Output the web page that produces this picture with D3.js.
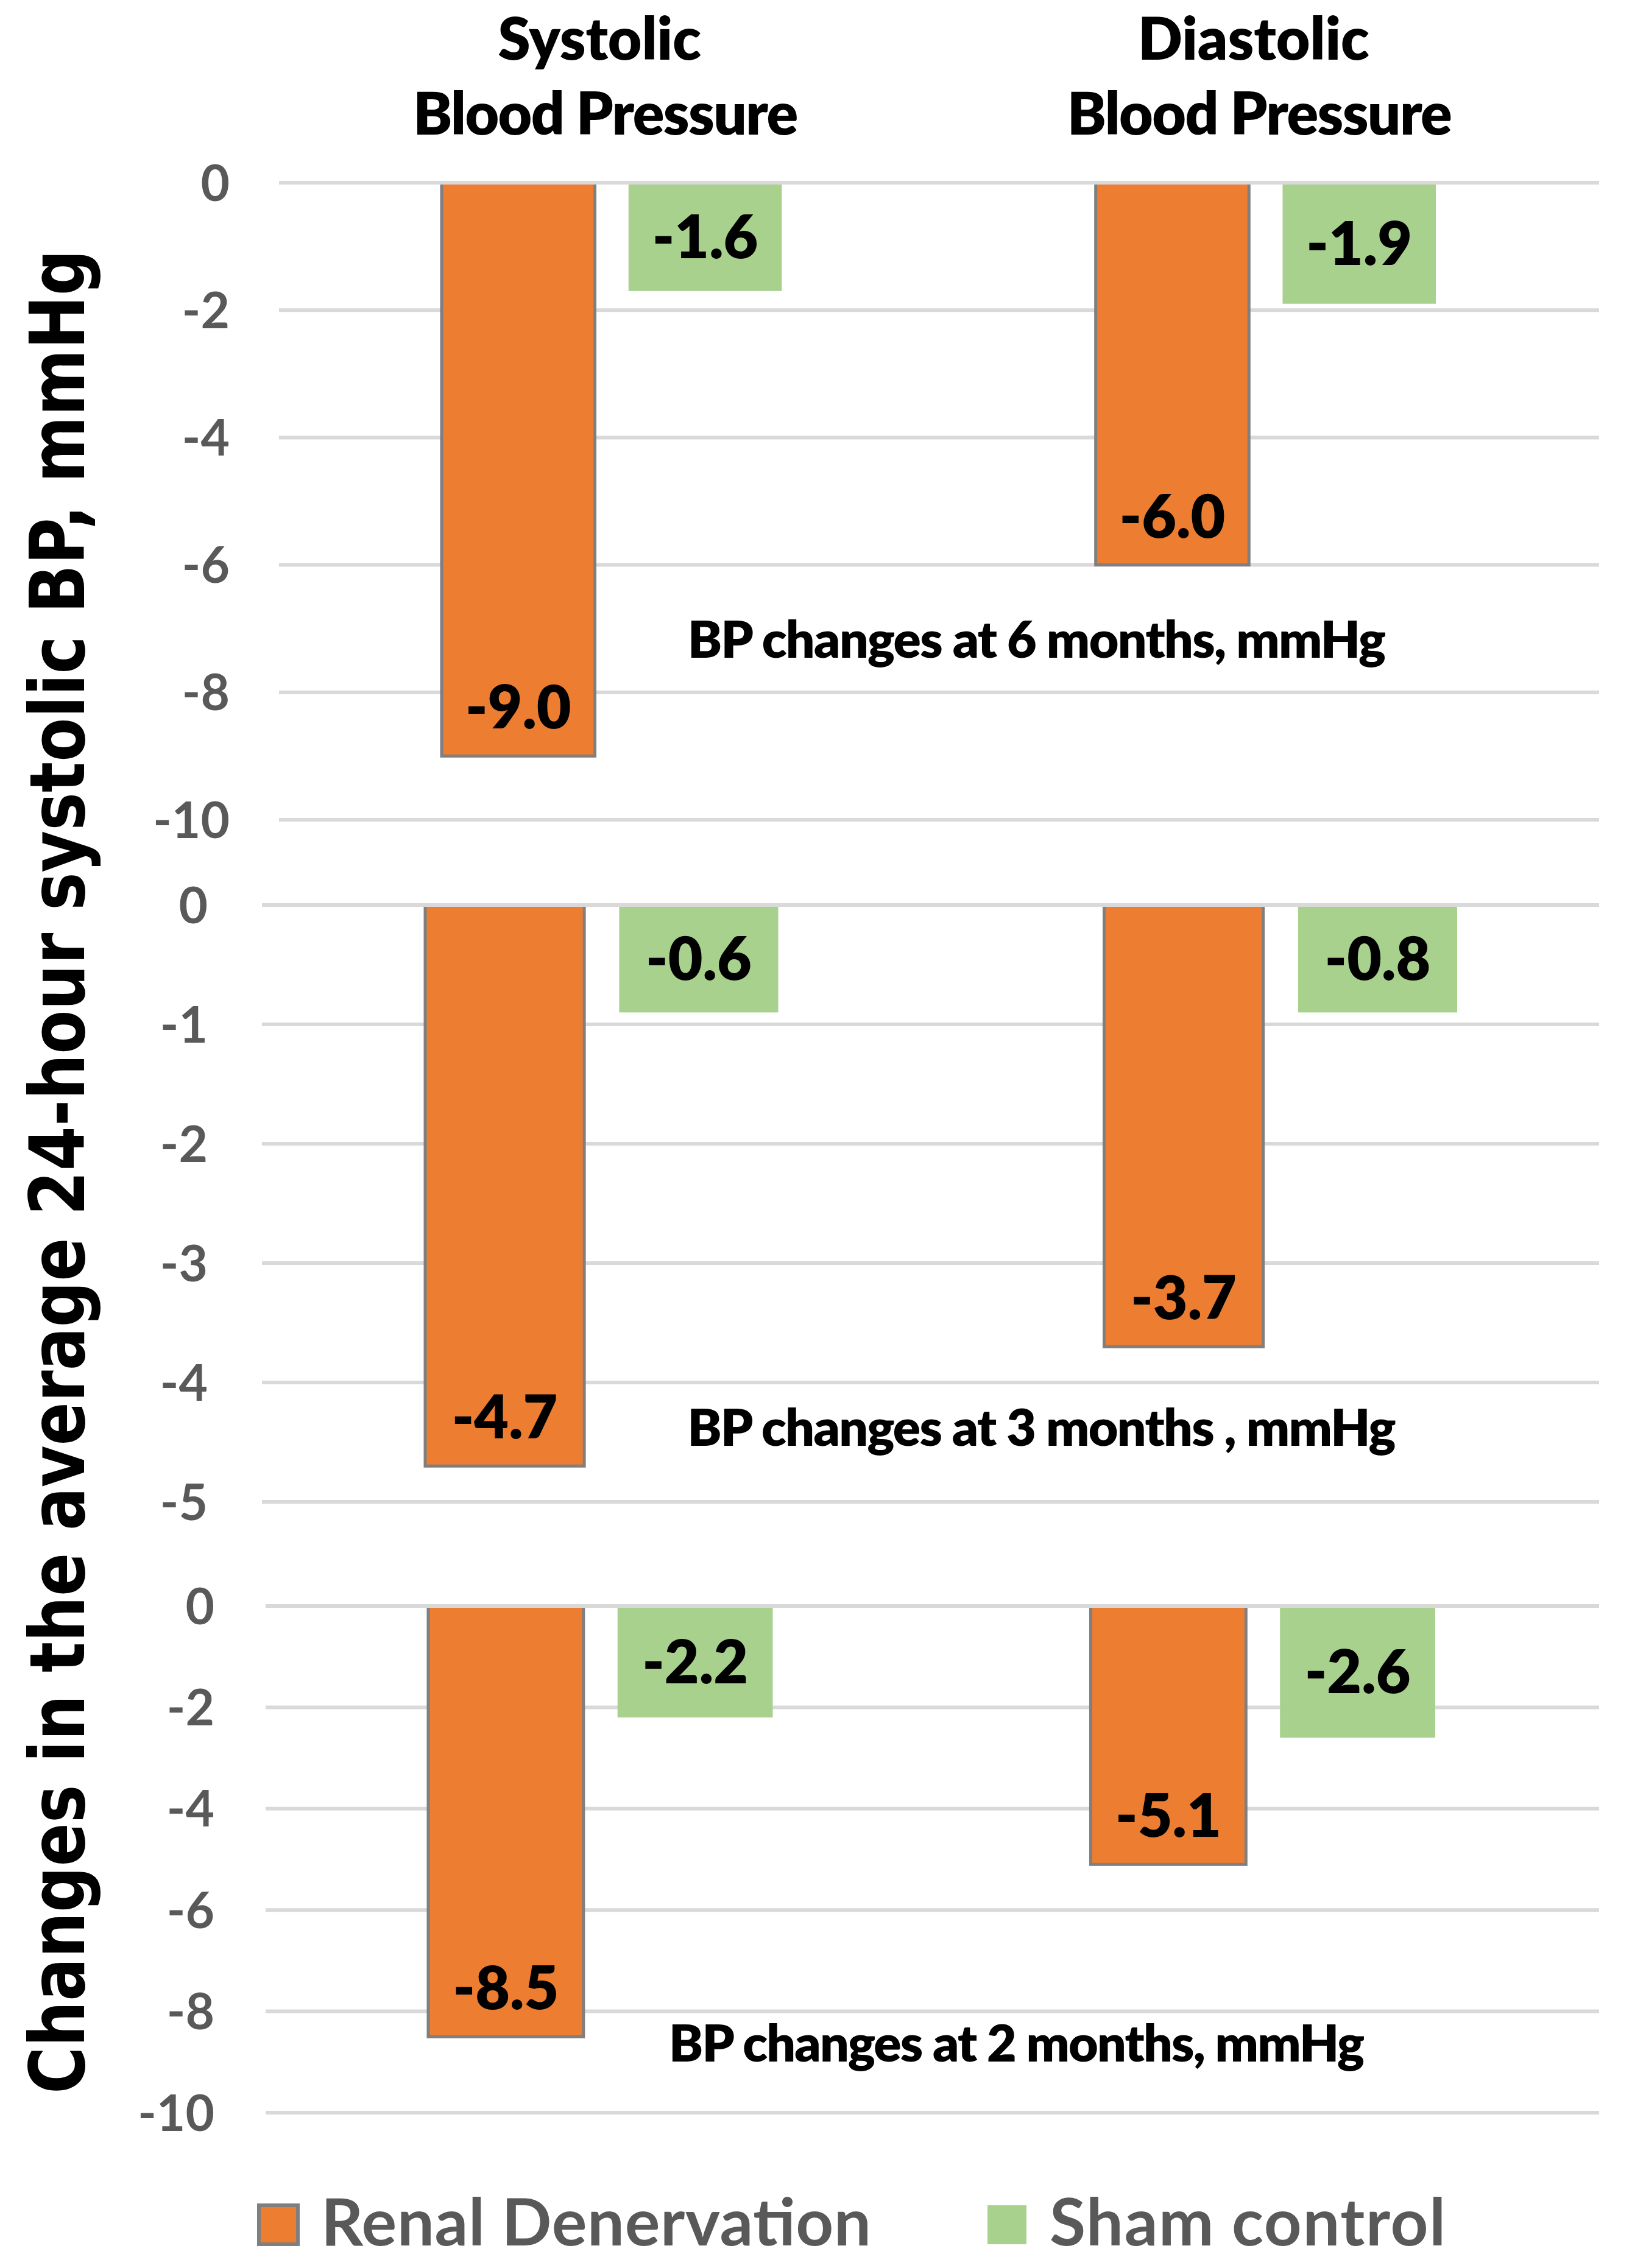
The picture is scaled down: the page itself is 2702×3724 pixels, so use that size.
<!DOCTYPE html>
<html>
<head>
<meta charset="utf-8">
<script src="https://cdn.jsdelivr.net/npm/d3@7"></script>
<style>
    body { margin: 0; background: #fff; }
    svg { display: block; }
</style>
</head>
<body>
<div class="chart"></div>
<script>
// Chart data
const categories = ["Systolic", "Diastolic"];
const categoryTitles = [["Systolic", "Blood Pressure"], ["Diastolic", "Blood Pressure"]];
const series = ["Renal Denervation", "Sham control"];

// bar lengths as drawn, per panel: [renal, sham] for each category
const months6 = [[-9.0, -1.7], [-6.0, -1.9]];
const months3 = [[-4.7, -0.9], [-3.7, -0.9]];
const months2 = [[-8.5, -2.2], [-5.1, -2.6]];

// data labels as printed on the bars
const labels6 = [["-9.0", "-1.6"], ["-6.0", "-1.9"]];
const labels3 = [["-4.7", "-0.6"], ["-3.7", "-0.8"]];
const labels2 = [["-8.5", "-2.2"], ["-5.1", "-2.6"]];

const ticks6 = [0, -2, -4, -6, -8, -10];
const ticks3 = [0, -1, -2, -3, -4, -5];
const ticks2 = [0, -2, -4, -6, -8, -10];

const notes = ["BP changes at 6 months, mmHg", "BP changes at 3 months , mmHg", "BP changes at 2 months, mmHg"];
const yTitle = "Changes in the average 24-hour systolic BP, mmHg";

const W = 2702, H = 3724;
const ORANGE = "#ed7d31", GREEN = "#a9d18e", GRID = "#d9d9d9", AXIS_TEXT = "#595959";
const FONT = 'Lato, "Open Sans", sans-serif';

// layout of the three stacked panels
const panels = [
    { values: months6, labels: labels6, ticks: ticks6, note: notes[0],
      top: 300, bottom: 1346, gridX: [458, 2625], bars: [725, 2357], tickX: 377,
      noteX: 1702, noteY: 1080, noteW: 1146 },
    { values: months3, labels: labels3, ticks: ticks3, note: notes[1],
      top: 1486, bottom: 2466, gridX: [430, 2625], bars: [698, 2392], tickX: 341,
      noteX: 1710, noteY: 2374, noteW: 1163 },
    { values: months2, labels: labels2, ticks: ticks2, note: notes[2],
      top: 2637, bottom: 3469, gridX: [436, 2625], bars: [703, 2356], tickX: 352,
      noteX: 1669, noteY: 3385, noteW: 1142 }
];

const svg = d3.select(".chart")
    .append("svg")
    .attr("width", W)
    .attr("height", H)
    .attr("viewBox", `0 0 ${W} ${H}`);

const color = d3.scaleOrdinal().domain(series).range([ORANGE, GREEN]);

panels.forEach((p, pi) => {
    const g = svg.append("g").attr("class", "panel");

    const y = d3.scaleLinear()
        .domain([d3.min(p.ticks), 0])
        .range([p.bottom, p.top]);

    const x0 = d3.scaleBand()
        .domain(categories)
        .range(p.bars)
        .paddingInner(0.48)
        .paddingOuter(0);

    const x1 = d3.scaleBand()
        .domain(series)
        .range([0, x0.bandwidth()])
        .paddingInner(0.18);

    // gridlines
    g.selectAll(".grid")
        .data(p.ticks.filter(t => t !== 0))
        .enter()
        .append("line")
        .attr("x1", p.gridX[0])
        .attr("x2", p.gridX[1])
        .attr("y1", d => y(d))
        .attr("y2", d => y(d))
        .attr("stroke", GRID)
        .attr("stroke-width", 6);

    // tick labels
    g.selectAll(".tick-label")
        .data(p.ticks)
        .enter()
        .append("text")
        .attr("x", p.tickX)
        .attr("y", d => y(d))
        .attr("dy", "0.36em")
        .attr("text-anchor", "end")
        .attr("font-family", FONT)
        .attr("font-weight", "bold")
        .attr("font-size", 82)
        .attr("fill", AXIS_TEXT)
        .text(d => d);

    const flat = categories.flatMap((c, ci) => series.map((s, si) => ({
        cat: c, ser: s, value: p.values[ci][si], label: p.labels[ci][si]
    })));

    g.selectAll(".bar")
        .data(flat)
        .enter()
        .append("rect")
        .attr("x", d => x0(d.cat) + x1(d.ser))
        .attr("y", y(0))
        .attr("width", x1.bandwidth())
        .attr("height", d => y(d.value) - y(0))
        .attr("fill", d => color(d.ser))
        .attr("stroke", d => d.ser === series[0] ? "#7f7f7f" : "none")
        .attr("stroke-width", 5);

    // zero line drawn over the bar tops
    g.append("line")
        .attr("x1", p.gridX[0])
        .attr("x2", p.gridX[1])
        .attr("y1", y(0))
        .attr("y2", y(0))
        .attr("stroke", GRID)
        .attr("stroke-width", 6);

    // value labels: renal at inside end, sham in the middle
    g.selectAll(".value-label")
        .data(flat)
        .enter()
        .append("text")
        .attr("x", d => x0(d.cat) + x1(d.ser) + x1.bandwidth() / 2)
        .attr("y", d => d.ser === series[0]
            ? y(d.value) - 45
            : (y(0) + y(d.value)) / 2)
        .attr("dy", d => d.ser === series[0] ? 0 : "0.36em")
        .attr("text-anchor", "middle")
        .attr("font-family", FONT)
        .attr("font-weight", 800)
        .attr("font-size", 98)
        .attr("fill", "#000")
        .text(d => d.label);

    // panel note
    g.append("text")
        .attr("x", p.noteX)
        .attr("y", p.noteY)
        .attr("text-anchor", "middle")
        .attr("font-family", FONT)
        .attr("font-weight", 800)
        .attr("font-size", 84)
        .attr("textLength", p.noteW)
        .attr("lengthAdjust", "spacing")
        .attr("fill", "#000")
        .text(p.note);

    // category titles above the first panel
    if (pi === 0) {
        categories.forEach((c, ci) => {
            const cx = x0(c) + x0.bandwidth() / 2;
            const t = svg.append("text")
                .attr("text-anchor", "middle")
                .attr("font-family", FONT)
                .attr("font-weight", 800)
                .attr("font-size", 96)
                .attr("fill", "#000");
            t.append("tspan").attr("x", cx - 20).attr("y", 98).text(categoryTitles[ci][0]);
            t.append("tspan").attr("x", cx - 10).attr("y", 221)
                .attr("textLength", 632).attr("lengthAdjust", "spacing")
                .text(categoryTitles[ci][1]);
        });
    }
});

// y axis title
svg.append("text")
    .attr("transform", "translate(138,1924) rotate(-90)")
    .attr("text-anchor", "middle")
    .attr("font-family", '"DejaVu Sans", Verdana, sans-serif')
    .attr("font-weight", "bold")
    .attr("font-size", 124)
    .attr("textLength", 3028)
    .attr("lengthAdjust", "spacingAndGlyphs")
    .attr("fill", "#000")
    .text(yTitle);

// legend
const legendX = [422, 1618];
const legendW = [903, 650];
const legend = svg.append("g").attr("class", "legend");
series.forEach((s, i) => {
    legend.append("rect")
        .attr("x", legendX[i] + 3)
        .attr("y", 3621)
        .attr("width", 64)
        .attr("height", 64)
        .attr("fill", color(s))
        .attr("stroke", i === 0 ? "#7f7f7f" : "none")
        .attr("stroke-width", 6);
    legend.append("text")
        .attr("x", legendX[i] + 105)
        .attr("y", 3687)
        .attr("font-family", FONT)
        .attr("font-weight", "bold")
        .attr("font-size", 108)
        .attr("textLength", legendW[i])
        .attr("lengthAdjust", "spacing")
        .attr("fill", AXIS_TEXT)
        .text(s);
});
</script>
</body>
</html>
